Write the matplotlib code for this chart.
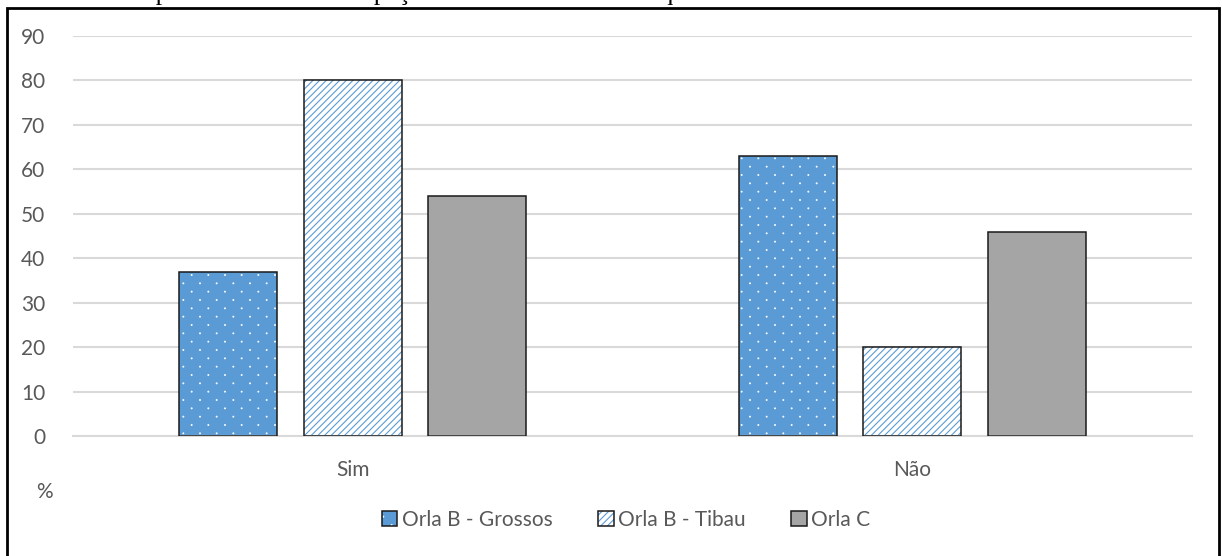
import warnings
import matplotlib
matplotlib.use("Agg")
import matplotlib.pyplot as plt
import matplotlib.hatch as mhatch
from matplotlib.path import Path
from matplotlib.patches import Patch, Rectangle
import numpy as np

warnings.filterwarnings("ignore")

plt.rcParams['font.family'] = ['Lato', 'DejaVu Sans']
plt.rcParams['hatch.linewidth'] = 0.8

categories = ["Sim", "Não"]
series_names = ["Orla B - Grossos", "Orla B - Tibau", "Orla C"]
grossos = [37, 63]
tibau = [80, 20]
orla_c = [54, 46]
y_ticks = [0, 10, 20, 30, 40, 50, 60, 70, 80, 90]
title = "Gráfico 6 – Opinião sobre se a ocupação da orla costeira é adequada"


class StaggeredDots(mhatch.HatchPatternBase):
    """Sparse staggered dot fill ("5 %" pattern), selected with ':'."""

    def __init__(self, hatch, density):
        circ = Path.unit_circle()
        self.shape_vertices = circ.vertices
        self.shape_codes = circ.codes
        cols, rows = 6, 12
        pts = []
        if ':' in hatch:
            for r in range(rows + 1):
                y = r / rows
                if r % 2 == 0:
                    xs = np.arange(cols + 1) / cols
                else:
                    xs = (np.arange(cols) + 0.5) / cols
                pts += [(xx, y) for xx in xs]
        self.pts = pts
        self.num_vertices = len(pts) * len(self.shape_vertices)

    def set_vertices_and_codes(self, vertices, codes):
        n = len(self.shape_vertices)
        cursor = 0
        for px, py in self.pts:
            vertices[cursor:cursor + n] = self.shape_vertices * 0.004 + (px, py)
            codes[cursor:cursor + n] = self.shape_codes
            cursor += n


mhatch._hatch_types.append(StaggeredDots)

series_values = [grossos, tibau, orla_c]
fills = ["#5B9BD5", "white", "#A5A5A5"]
hatch_colors = ["white", "#5B9BD5", "#A5A5A5"]
hatches = [":", "/////", None]

W, H = 1222, 556
fig = plt.figure(figsize=(W / 100, H / 100), dpi=100)

# outer chart frame
fig.patches.append(Rectangle((7 / W, -0.02), (1219 - 7) / W, (H - 8) / H + 0.02,
                             transform=fig.transFigure, fill=False,
                             edgecolor="black", linewidth=2, zorder=0))

# caption line of the page, sitting just above the chart frame
fig.text(12 / W, 1 - 0.3 / H, title, family="Liberation Serif", fontsize=18.7,
         ha="left", va="baseline")

ax = fig.add_axes([73 / W, 120 / H, (1192 - 73) / W, 400 / H])
x = np.arange(len(categories))
step = 0.2225
width = 0.175
offsets = [-step, 0, step]

legend_handles = []
for vals, fc, hc, h, off, name in zip(series_values, fills, hatch_colors,
                                      hatches, offsets, series_names):
    ax.bar(x + off, vals, width, color=fc, edgecolor=hc, hatch=h,
           linewidth=0, zorder=2)
    ax.bar(x + off, vals, width, fill=False, edgecolor="#1a1a1a",
           linewidth=1.1, zorder=3)
    legend_handles.append((Patch(facecolor=fc, edgecolor=hc, hatch=h, linewidth=0),
                           Patch(fill=False, edgecolor="#1a1a1a", linewidth=1.1)))

ax.set_xlim(-0.5, 1.5)
ax.set_ylim(0, 90)
ax.set_yticks(y_ticks)
ax.set_xticks(x)
ax.set_xticklabels(categories)
ax.tick_params(axis="both", length=0, labelsize=15, colors="#595959")
ax.tick_params(axis="x", pad=17)
ax.tick_params(axis="y", pad=20)
ax.grid(axis="y", color="#D9D9D9", linewidth=1.5, zorder=1)
ax.set_axisbelow(True)
for side in ["top", "right", "left"]:
    ax.spines[side].set_visible(False)
ax.spines["bottom"].set_color("#D9D9D9")
ax.spines["bottom"].set_linewidth(1.5)

fig.text(44 / W, 1 - 492 / H, "%", fontsize=15, color="#595959",
         ha="center", va="center")

fig.legend(legend_handles, series_names, loc="center",
           bbox_to_anchor=(626 / W, 1 - 520 / H), ncol=3, frameon=False,
           fontsize=15, labelcolor="#595959", handlelength=0.75,
           handleheight=0.75, handletextpad=0.2, columnspacing=2.2)

fig.savefig("out.png", dpi=100)
